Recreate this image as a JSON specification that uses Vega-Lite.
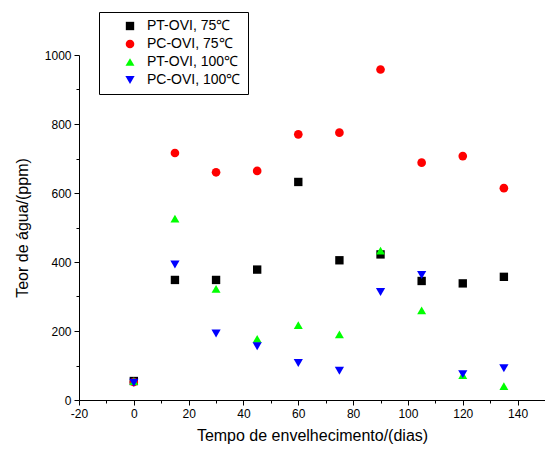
{
  "$schema": "https://vega.github.io/schema/vega-lite/v6.json",
  "width": 466,
  "height": 345,
  "autosize": {"type": "none"},
  "padding": {"left": 79, "top": 55, "right": 0, "bottom": 53},
  "background": "white",
  "config": {
    "view": {"stroke": null},
    "font": "Liberation Sans",
    "axis": {"labelFont": "Liberation Sans", "titleFont": "Liberation Sans", "domainColor": "black", "tickColor": "black", "labelColor": "black", "titleColor": "black", "grid": false, "titleFontWeight": "normal", "labelFontSize": 12, "titleFontSize": 16},
    "legend": {"labelFont": "Liberation Sans"}
  },
  "data": {
    "values": [
      {"t": 0, "v": 55, "s": "PT-OVI, 75℃"},
      {"t": 15, "v": 348, "s": "PT-OVI, 75℃"},
      {"t": 30, "v": 348, "s": "PT-OVI, 75℃"},
      {"t": 45, "v": 378, "s": "PT-OVI, 75℃"},
      {"t": 60, "v": 632, "s": "PT-OVI, 75℃"},
      {"t": 75, "v": 405, "s": "PT-OVI, 75℃"},
      {"t": 90, "v": 422, "s": "PT-OVI, 75℃"},
      {"t": 105, "v": 345, "s": "PT-OVI, 75℃"},
      {"t": 120, "v": 338, "s": "PT-OVI, 75℃"},
      {"t": 135, "v": 357, "s": "PT-OVI, 75℃"},
      {"t": 0, "v": 52, "s": "PC-OVI, 75℃"},
      {"t": 15, "v": 716, "s": "PC-OVI, 75℃"},
      {"t": 30, "v": 660, "s": "PC-OVI, 75℃"},
      {"t": 45, "v": 664, "s": "PC-OVI, 75℃"},
      {"t": 60, "v": 770, "s": "PC-OVI, 75℃"},
      {"t": 75, "v": 775, "s": "PC-OVI, 75℃"},
      {"t": 90, "v": 958, "s": "PC-OVI, 75℃"},
      {"t": 105, "v": 688, "s": "PC-OVI, 75℃"},
      {"t": 120, "v": 707, "s": "PC-OVI, 75℃"},
      {"t": 135, "v": 614, "s": "PC-OVI, 75℃"},
      {"t": 0, "v": 55, "s": "PT-OVI, 100℃"},
      {"t": 15, "v": 526, "s": "PT-OVI, 100℃"},
      {"t": 30, "v": 322, "s": "PT-OVI, 100℃"},
      {"t": 45, "v": 177, "s": "PT-OVI, 100℃"},
      {"t": 60, "v": 217, "s": "PT-OVI, 100℃"},
      {"t": 75, "v": 190, "s": "PT-OVI, 100℃"},
      {"t": 90, "v": 433, "s": "PT-OVI, 100℃"},
      {"t": 105, "v": 260, "s": "PT-OVI, 100℃"},
      {"t": 120, "v": 72, "s": "PT-OVI, 100℃"},
      {"t": 135, "v": 40, "s": "PT-OVI, 100℃"},
      {"t": 0, "v": 50, "s": "PC-OVI, 100℃"},
      {"t": 15, "v": 393, "s": "PC-OVI, 100℃"},
      {"t": 30, "v": 193, "s": "PC-OVI, 100℃"},
      {"t": 45, "v": 156, "s": "PC-OVI, 100℃"},
      {"t": 60, "v": 107, "s": "PC-OVI, 100℃"},
      {"t": 75, "v": 85, "s": "PC-OVI, 100℃"},
      {"t": 90, "v": 313, "s": "PC-OVI, 100℃"},
      {"t": 105, "v": 362, "s": "PC-OVI, 100℃"},
      {"t": 120, "v": 75, "s": "PC-OVI, 100℃"},
      {"t": 135, "v": 92, "s": "PC-OVI, 100℃"}
    ]
  },
  "mark": {"type": "point", "filled": true, "opacity": 1, "clip": false},
  "encoding": {
    "x": {
      "field": "t", "type": "quantitative",
      "scale": {"domain": [-20, 150], "nice": false, "zero": false},
      "axis": {
        "title": "Tempo de envelhecimento/(dias)",
        "values": [-20, -10, 0, 10, 20, 30, 40, 50, 60, 70, 80, 90, 100, 110, 120, 130, 140, 150],
        "labelExpr": "datum.value % 20 === 0 && datum.value < 150 ? '' + datum.value : ''",
        "tickSize": {"condition": {"test": "datum.value % 20 === 0", "value": 5}, "value": 3},
        "labelPadding": 3,
        "titlePadding": 8,
        "labelFlush": false
      }
    },
    "y": {
      "field": "v", "type": "quantitative",
      "scale": {"domain": [0, 1000], "nice": false},
      "axis": {
        "title": "Teor de água/(ppm)",
        "values": [0, 100, 200, 300, 400, 500, 600, 700, 800, 900, 1000],
        "labelExpr": "datum.value % 200 === 0 ? '' + datum.value : ''",
        "tickSize": {"condition": {"test": "datum.value % 200 === 0", "value": 5}, "value": 3},
        "labelPadding": 3,
        "titlePadding": 14,
        "labelFlush": false
      }
    },
    "shape": {
      "field": "s", "type": "nominal",
      "sort": ["PT-OVI, 75℃", "PC-OVI, 75℃", "PT-OVI, 100℃", "PC-OVI, 100℃"],
      "scale": {"domain": ["PT-OVI, 75℃", "PC-OVI, 75℃", "PT-OVI, 100℃", "PC-OVI, 100℃"], "range": ["square", "circle", "triangle-up", "triangle-down"]},
      "legend": {
        "title": null,
        "orient": "none",
        "legendX": 20,
        "legendY": -43,
        "strokeColor": "black",
        "fillColor": "white",
        "padding": 7,
        "symbolOffset": 17,
        "labelFontSize": 14,
        "labelColor": "black",
        "rowPadding": 4,
        "labelOffset": 10,
        "labelExpr": "datum.label + '\u00a0\u00a0'"
      }
    },
    "size": {
      "field": "s", "type": "nominal",
      "sort": ["PT-OVI, 75℃", "PC-OVI, 75℃", "PT-OVI, 100℃", "PC-OVI, 100℃"],
      "scale": {"domain": ["PT-OVI, 75℃", "PC-OVI, 75℃", "PT-OVI, 100℃", "PC-OVI, 100℃"], "range": [70, 85, 130, 130]}
    },
    "color": {
      "field": "s", "type": "nominal",
      "sort": ["PT-OVI, 75℃", "PC-OVI, 75℃", "PT-OVI, 100℃", "PC-OVI, 100℃"],
      "scale": {"domain": ["PT-OVI, 75℃", "PC-OVI, 75℃", "PT-OVI, 100℃", "PC-OVI, 100℃"], "range": ["#000000", "#ff0000", "#00ff00", "#0000ff"]}
    }
  }
}
